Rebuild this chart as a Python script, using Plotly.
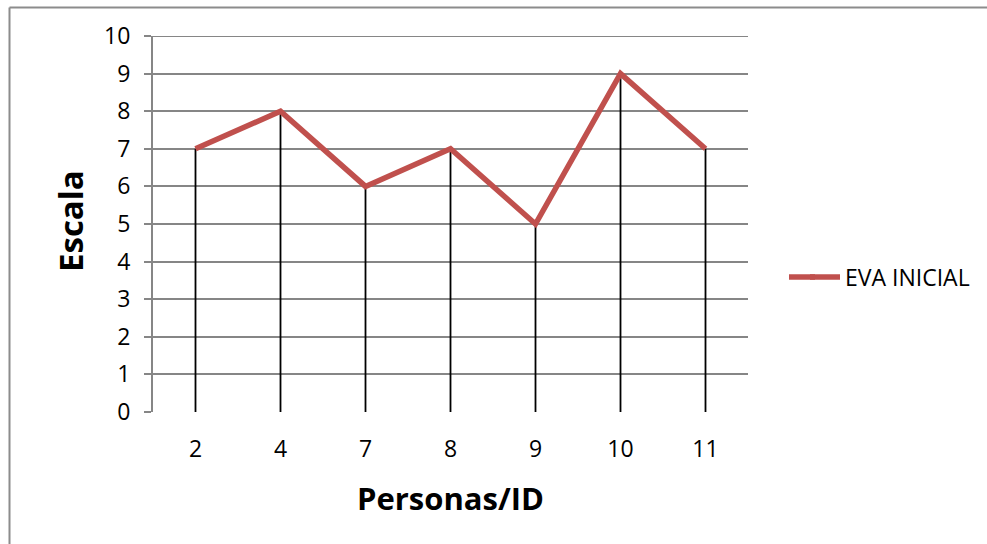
import plotly.graph_objects as go

# Data
personas = ["2", "4", "7", "8", "9", "10", "11"]
eva_inicial = [7, 8, 6, 7, 5, 9, 7]
y_ticks = [0, 1, 2, 3, 4, 5, 6, 7, 8, 9, 10]

W, H = 987, 544
L, R, T, B = 153, 748, 36, 412  # plot area in pixels

def px_x(x):
    return (x - L) / (R - L)

def px_y(y):
    return (B - y) / (B - T)

# Drop lines from each point down to the axis
drop_x, drop_y = [], []
for p, v in zip(personas, eva_inicial):
    drop_x += [p, p, None]
    drop_y += [0, v, None]

fig = go.Figure()
fig.add_trace(go.Scatter(
    x=drop_x, y=drop_y, mode="lines",
    line=dict(color="black", width=1.8),
    showlegend=False, hoverinfo="skip",
))
fig.add_trace(go.Scatter(
    x=personas, y=eva_inicial, mode="lines", name="EVA INICIAL",
    line=dict(color="#C0504D", width=5.5),
))

font = "Open Sans, Noto Sans, sans-serif"
grid = "#868686"
border = "#8c8c8c"
legend_y = px_y(277)

fig.update_layout(
    width=W, height=H,
    margin=dict(l=L, r=W - R, t=T, b=H - B),
    paper_bgcolor="white", plot_bgcolor="white",
    font=dict(family=font, size=23, color="black"),
    showlegend=True,
    legend=dict(
        x=px_x(805), y=legend_y, xanchor="left", yanchor="middle",
        font=dict(size=23, color="black"), bgcolor="rgba(0,0,0,0)",
    ),
    xaxis=dict(
        type="category", categoryorder="array", categoryarray=personas,
        range=[-0.5, len(personas) - 0.5],
        showgrid=False, zeroline=False, showline=False,
        ticks="", ticklabelstandoff=21,
        tickfont=dict(size=23, color="black"),
    ),
    yaxis=dict(
        range=[0, 10], tickvals=y_ticks, ticktext=[str(v) for v in y_ticks],
        showgrid=True, gridcolor=grid, gridwidth=2,
        zeroline=False, showline=True, linecolor=grid, linewidth=2,
        ticks="outside", ticklen=7, tickcolor=grid, tickwidth=2,
        ticklabelstandoff=9,
        tickfont=dict(size=23, color="black"),
    ),
    shapes=[
        # outer chart border (left and top edges fall inside the page)
        dict(type="line", xref="paper", yref="paper",
             x0=px_x(9.5), x1=px_x(9.5), y0=px_y(560), y1=px_y(7.5),
             line=dict(color=border, width=2), layer="below"),
        dict(type="line", xref="paper", yref="paper",
             x0=px_x(9.5), x1=px_x(990), y0=px_y(7.5), y1=px_y(7.5),
             line=dict(color=border, width=2), layer="below"),
        # top gridline at the axis maximum
        dict(type="line", xref="paper", yref="y",
             x0=0, x1=1, y0=y_ticks[-1], y1=y_ticks[-1],
             line=dict(color=grid, width=2), layer="below"),
        # longer legend key line
        dict(type="line", xref="paper", yref="paper",
             x0=px_x(789), x1=px_x(815), y0=legend_y, y1=legend_y,
             line=dict(color="#C0504D", width=5.5)),
    ],
    annotations=[
        dict(text="<b>Personas/ID</b>", xref="paper", yref="paper",
             x=px_x(450), y=px_y(498), xanchor="center", yanchor="middle",
             showarrow=False, font=dict(size=31, color="black", family=font)),
        dict(text="<b>Escala</b>", xref="paper", yref="paper",
             x=px_x(70), y=px_y(221), xanchor="center", yanchor="middle",
             textangle=-90, showarrow=False,
             font=dict(size=33, color="black", family=font)),
    ],
)

fig.write_html("out.html")
